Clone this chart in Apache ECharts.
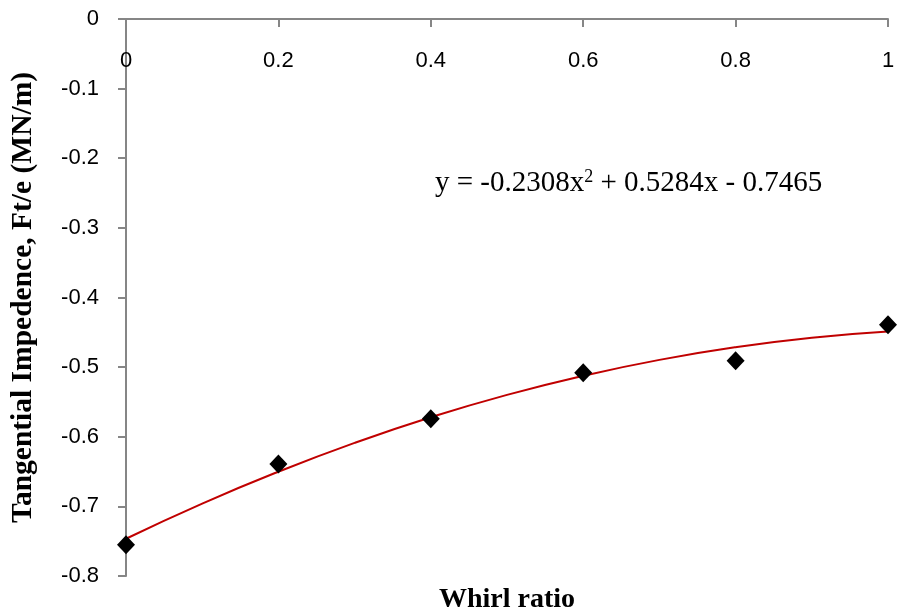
<!DOCTYPE html>
<html>
<head>
<meta charset="utf-8">
<script src="https://cdn.jsdelivr.net/npm/echarts@6/dist/echarts.min.js"></script>
<style>html,body{margin:0;padding:0;background:#fff}#c{width:897px;height:615px}</style>
</head>
<body>
<div id="c"></div>
<script>
const whirlRatio = [0, 0.2, 0.4, 0.6, 0.8, 1];
const impedance = [-0.755, -0.639, -0.574, -0.508, -0.491, -0.439];
const trendX = [0, 0.1, 0.2, 0.3, 0.4, 0.5, 0.6, 0.7, 0.8, 0.9, 1.0];
const trendY = [-0.7465, -0.6960, -0.6502, -0.6088, -0.5720, -0.5399, -0.5125, -0.4896, -0.4714, -0.4578, -0.4489];
const equationText = 'y = -0.2308x{sup|2} + 0.5284x - 0.7465';
const xTitle = 'Whirl ratio';
const yTitle = 'Tangential Impedence, Ft/e (MN/m)';

const chart = echarts.init(document.getElementById('c'));
const axisGray = '#868686';
chart.setOption({
  animation: false,
  backgroundColor: '#fff',
  grid: { left: 126, right: 9, top: 19, bottom: 39, containLabel: false, outerBoundsMode: 'none' },
  graphic: [
    {
      type: 'text', x: 507, y: 600, z: 10,
      style: { text: xTitle, align: 'center', verticalAlign: 'middle',
        font: 'bold 28px "Liberation Serif"', fill: '#000' }
    },
    {
      type: 'text', x: 435, y: 183, z: 10,
      style: {
        text: equationText, align: 'left', verticalAlign: 'middle',
        fontFamily: 'Liberation Serif', fontSize: 29, fill: '#000',
        rich: { sup: { fontFamily: 'Liberation Serif', fontSize: 18, verticalAlign: 'top', padding: [0, 0, 12, 0], fill: '#000' } }
      }
    }
  ],
  xAxis: {
    type: 'value', position: 'top', min: 0, max: 1, interval: 0.2,
    axisLine: { show: true, onZero: false, lineStyle: { color: axisGray, width: 2 } },
    axisTick: { show: true, inside: true, length: 8, lineStyle: { color: axisGray, width: 2 } },
    axisLabel: { inside: true, margin: 31, fontFamily: 'Liberation Sans', fontSize: 22, color: '#000',
      formatter: v => String(+v.toFixed(1)) },
    splitLine: { show: false }
  },
  yAxis: {
    type: 'value', min: -0.8, max: 0, interval: 0.1,
    name: yTitle, nameLocation: 'middle', nameGap: 88, nameRotate: 90,
    nameTextStyle: { fontFamily: 'Liberation Serif', fontWeight: 'bold', fontSize: 29.5, color: '#000' },
    axisLine: { show: true, lineStyle: { color: axisGray, width: 2 } },
    axisTick: { show: true, length: 8, lineStyle: { color: axisGray, width: 2 } },
    axisLabel: { margin: 27, fontFamily: 'Liberation Sans', fontSize: 22, color: '#000',
      formatter: v => String(+v.toFixed(1)) },
    splitLine: { show: false }
  },
  series: [
    {
      type: 'line', data: trendX.map((x, i) => [x, trendY[i]]), smooth: true,
      showSymbol: false, lineStyle: { color: '#C00000', width: 2 }, z: 2
    },
    {
      type: 'scatter', data: whirlRatio.map((x, i) => [x, impedance[i]]),
      symbol: 'diamond', symbolSize: [18, 19], itemStyle: { color: '#000', opacity: 1 }, z: 3
    }
  ]
});
</script>
</body>
</html>
